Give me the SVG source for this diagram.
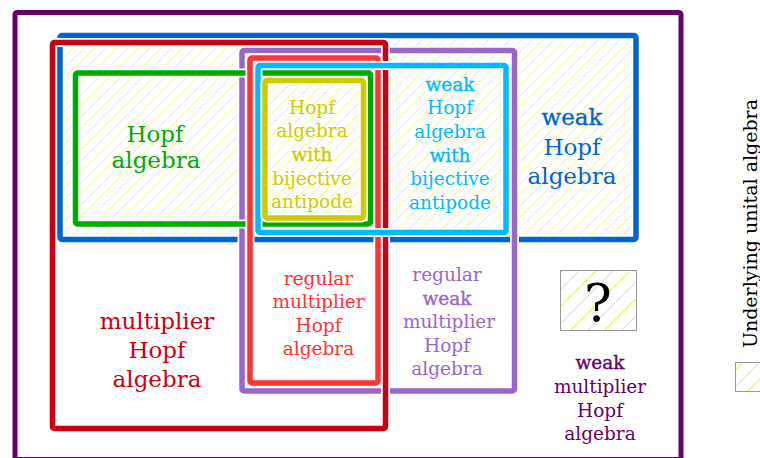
<svg xmlns="http://www.w3.org/2000/svg" width="760" height="458" viewBox="0 0 760 458">
  <defs>
    <!-- light yellow diagonal hatching for the underlying unital algebra -->
    <pattern id="hatch" patternUnits="userSpaceOnUse" width="11" height="11">
      <path d="M-1,1 l2,-2 M0,11 l11,-11 M10,12 l2,-2" stroke="#ecec90" stroke-width="0.85"/>
    </pattern>
    <pattern id="hatchSmall" patternUnits="userSpaceOnUse" width="17" height="17">
      <path d="M-1,1 l2,-2 M0,17 l17,-17 M16,18 l2,-2" stroke="#e4e45a" stroke-width="1"/>
    </pattern>
  </defs>
  <style>
    text { font-family: "DejaVu Serif", "Liberation Serif", serif; text-anchor: middle; fill: currentColor; }
    .big { font-size: 23px; }
    .small { font-size: 18.5px; }
    .em { stroke: currentColor; stroke-width: 0.35px; }
    .halo { fill: none; stroke: #ffffff; stroke-width: 9px; stroke-linejoin: round; }
    .edge { fill: none; stroke: currentColor; stroke-width: 5.5px; stroke-linejoin: round; }
    .swatch { fill: url(#hatchSmall); stroke: #999999; stroke-width: 1px; }
  </style>

  <rect width="760" height="458" fill="#ffffff"/>

  <!-- weak multiplier Hopf algebra (outermost) -->
  <g id="weak-multiplier-hopf" style="color:#660066">
    <rect class="edge" x="15" y="12.5" width="666" height="447" rx="2" style="stroke-width:5px"/>
    <text class="small" x="600" y="368.5"><tspan class="em">weak</tspan></text>
    <text class="small" x="600" y="392.5">multiplier</text>
    <text class="small" x="600" y="416.5">Hopf</text>
    <text class="small" x="600" y="439.5">algebra</text>
  </g>

  <!-- hatched area: algebras with a unit -->
  <rect id="unital-area" x="60" y="35.5" width="576" height="204" fill="url(#hatch)"/>

  <!-- weak Hopf algebra -->
  <g id="weak-hopf" style="color:#0066cc">
    <rect class="halo" x="60" y="35.5" width="576" height="204" rx="2"/>
    <rect class="edge" x="60" y="35.5" width="576" height="204" rx="2"/>
    <text class="big" x="572" y="125"><tspan class="em">weak</tspan></text>
    <text class="big" x="572" y="154.5">Hopf</text>
    <text class="big" x="572" y="183.5">algebra</text>
  </g>

  <!-- regular weak multiplier Hopf algebra -->
  <g id="regular-weak-multiplier-hopf" style="color:#9966cc">
    <rect class="halo" x="242" y="50.5" width="272.5" height="340.5" rx="2"/>
    <rect class="edge" x="242" y="50.5" width="272.5" height="340.5" rx="2"/>
    <text class="small" x="447" y="281">regular</text>
    <text class="small" x="447" y="304.5"><tspan class="em">weak</tspan></text>
    <text class="small" x="449" y="328">multiplier</text>
    <text class="small" x="447" y="351.5">Hopf</text>
    <text class="small" x="447" y="375">algebra</text>
  </g>

  <!-- Hopf algebra -->
  <g id="hopf" style="color:#00aa00">
    <rect class="halo" x="75.5" y="73" width="295" height="151" rx="2"/>
    <rect class="edge" x="75.5" y="73" width="295" height="151" rx="2"/>
    <text class="big" x="155" y="141.5">Hopf</text>
    <text class="big" x="156" y="168">algebra</text>
  </g>

  <!-- multiplier Hopf algebra -->
  <g id="multiplier-hopf" style="color:#cc0010">
    <rect class="halo" x="52.5" y="42.5" width="333" height="386" rx="2"/>
    <rect class="edge" x="52.5" y="42.5" width="333" height="386" rx="2"/>
    <text class="big" x="157" y="328.5">multiplier</text>
    <text class="big" x="157" y="357.5">Hopf</text>
    <text class="big" x="157" y="386.5">algebra</text>
  </g>

  <!-- regular multiplier Hopf algebra -->
  <g id="regular-multiplier-hopf" style="color:#ff3333">
    <rect class="halo" x="250" y="58" width="128" height="325" rx="2"/>
    <rect class="edge" x="250" y="58" width="128" height="325" rx="2"/>
    <text class="small" x="318.5" y="284.5">regular</text>
    <text class="small" x="318.5" y="308">multiplier</text>
    <text class="small" x="318.5" y="331.5">Hopf</text>
    <text class="small" x="318.5" y="355">algebra</text>
  </g>

  <!-- weak Hopf algebra with bijective antipode -->
  <g id="weak-hopf-bijective" style="color:#00bbff">
    <rect class="halo" x="258" y="65.5" width="248" height="167" rx="2"/>
    <rect class="edge" x="258" y="65.5" width="248" height="167" rx="2"/>
    <text class="small" x="450" y="90.5"><tspan class="em">weak</tspan></text>
    <text class="small" x="450" y="114">Hopf</text>
    <text class="small" x="450" y="137.5">algebra</text>
    <text class="small" x="450" y="161.5"><tspan class="em">with</tspan></text>
    <text class="small" x="450" y="185">bijective</text>
    <text class="small" x="450" y="208.5">antipode</text>
  </g>

  <!-- Hopf algebra with bijective antipode -->
  <g id="hopf-bijective" style="color:#cccc00">
    <rect class="halo" x="265" y="80.5" width="98.5" height="137.5" rx="2"/>
    <rect class="edge" x="265" y="80.5" width="98.5" height="137.5" rx="2"/>
    <text class="small" x="312" y="113.5">Hopf</text>
    <text class="small" x="312" y="137">algebra</text>
    <text class="small" x="312" y="161"><tspan class="em">with</tspan></text>
    <text class="small" x="312" y="184.5">bijective</text>
    <text class="small" x="312" y="207.5">antipode</text>
  </g>

  <!-- open question: weak multiplier Hopf algebra with a unit -->
  <g id="unknown" style="color:#000000">
    <rect class="swatch" x="560.5" y="270.5" width="76" height="60"/>
    <text x="598" y="321" style="font-size:52px">?</text>
  </g>

  <!-- legend -->
  <g id="legend" style="color:#000000">
    <text transform="rotate(-90 756.5 223.5)" x="756.5" y="223.5" style="font-size:19px">Underlying unital algebra</text>
    <rect class="swatch" x="735.5" y="362.5" width="40" height="29"/>
  </g>
</svg>
